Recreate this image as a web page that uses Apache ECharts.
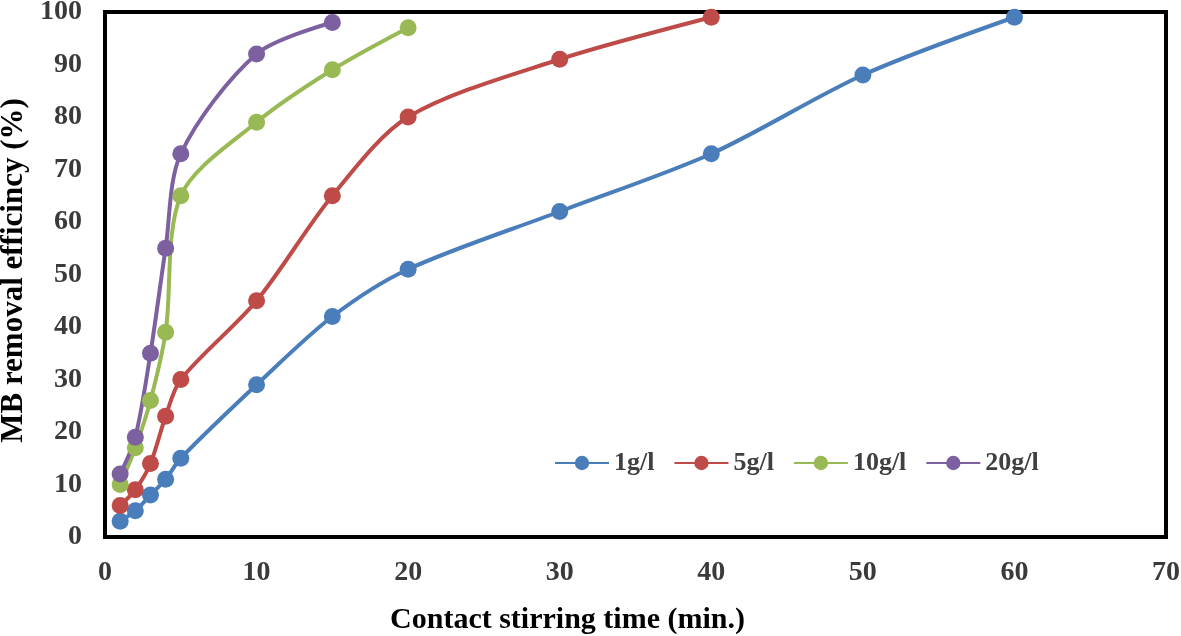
<!DOCTYPE html>
<html><head><meta charset="utf-8">
<script src="https://cdn.jsdelivr.net/npm/echarts@6/dist/echarts.min.js"></script>
<style>html,body{margin:0;padding:0;background:#fff}#c{width:1181px;height:636px}</style>
</head><body><div id="c"></div>
<script>
const seriesNames = ['1g/l','5g/l','10g/l','20g/l'];
const colors = ['#4A7EBB','#BE4B48','#98B954','#7D60A0'];
const t1 = [1,2,3,4,5,10,15,20,30,40,50,60];
const v1 = [3,5,8,11,15,29,42,51,62,73,88,99];
const t5 = [1,2,3,4,5,10,15,20,30,40];
const v5 = [6,9,14,23,30,45,65,80,91,99];
const t10 = [1,2,3,4,5,10,15,20];
const v10 = [10,17,26,39,65,79,89,97];
const t20 = [1,2,3,4,5,10,15];
const v20 = [12,19,35,55,73,92,98];
const xs = [t1,t5,t10,t20], ys=[v1,v5,v10,v20];
const font = '"Liberation Serif", "Times New Roman", serif';
const chart = echarts.init(document.getElementById('c'));
chart.setOption({
  animation:false,
  grid:{left:105,right:15,top:12,bottom:99,outerBoundsMode:'none',containLabel:false,
    show:true,borderColor:'#000',borderWidth:4},
  legend:{data:seriesNames,left:549,top:445,itemWidth:54,itemHeight:18,itemGap:19,
    textStyle:{fontFamily:font,fontWeight:'bold',fontSize:26,color:'#404040'}},
  xAxis:{type:'value',min:0,max:70,interval:10,
    name:'Contact stirring time (min.)',nameLocation:'middle',nameGap:68,
    nameTextStyle:{fontFamily:font,fontWeight:'bold',fontSize:30,color:'#000',padding:[0,136,0,0]},
    axisLine:{show:true,lineStyle:{color:'#000',width:3}},axisTick:{show:false},splitLine:{show:false},
    axisLabel:{fontFamily:font,fontWeight:'bold',fontSize:28,color:'#3a3a3a',margin:22}},
  yAxis:{type:'value',min:0,max:100,interval:10,
    name:'MB removal efficincy (%)',nameLocation:'middle',nameGap:74,
    nameTextStyle:{fontFamily:font,fontWeight:'bold',fontSize:31,color:'#000',padding:[0,0,0,8]},
    axisLine:{show:true,lineStyle:{color:'#000',width:3}},axisTick:{show:false},splitLine:{show:false},
    axisLabel:{fontFamily:font,fontWeight:'bold',fontSize:28,color:'#3a3a3a',margin:23}},
  series:seriesNames.map((n,i)=>({
    name:n,type:'line',smooth:0.3,symbol:'circle',symbolSize:17,
    itemStyle:{color:colors[i]},lineStyle:{color:colors[i],width:4},
    data:xs[i].map((x,j)=>[x,ys[i][j]])
  }))
});
</script></body></html>
